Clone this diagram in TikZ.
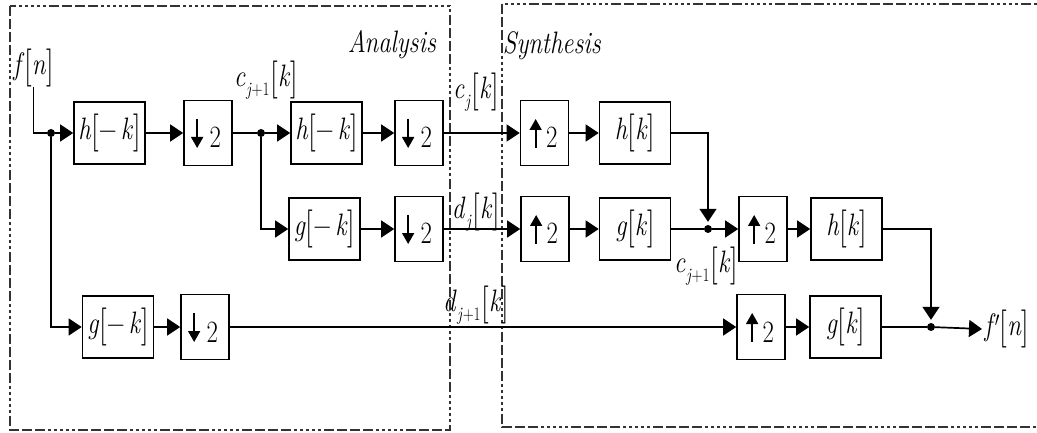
\documentclass[tikz,border=0pt]{standalone}
\usepackage{fontspec}
\usetikzlibrary{arrows.meta,calc}

% tall square brackets around an argument
\newcommand{\bk}[1]{\raisebox{-3pt}{\fontsize{38}{38}\selectfont[}#1\raisebox{-3pt}{\fontsize{38}{38}\selectfont]}}
% signal name with subscript and index: \sgl{c}{j+1}{k}
\newcommand{\sgl}[3]{\textit{#1}\kern1pt\raisebox{-9pt}{\fontsize{19}{19}\selectfont#2}\kern1pt\bk{\textit{#3}}}
% the "2" of a rate changer, lowered a little inside its box
\newcommand{\two}{\hspace*{18pt}\raisebox{-5pt}[20pt][0pt]{2}}

\tikzset{
  filt/.style={draw, line width=1.7pt, minimum width=71pt, minimum height=62pt, inner sep=0pt},
  samp/.style={draw, line width=1.7pt, minimum width=48pt, minimum height=65pt, inner sep=0pt},
  wire/.style={line width=1.7pt},
  sig/.style={wire, -{Triangle[length=13pt,width=17pt]}},
  inarrow/.style={line width=1.7pt, -{Triangle[length=11pt,width=12pt]}},
  junc/.style={circle, fill, inner sep=0pt, minimum size=8pt},
  lbl/.style={inner sep=0pt},
  sx/.style={xscale=0.8, transform shape},
  frame/.style={draw=black!80, line width=2pt,
    dash pattern=on 10pt off 3pt on 10pt off 3pt on 10pt off 3pt on 10pt off 3pt
                 on 3pt off 3pt on 3pt off 3pt on 3pt off 3pt on 3pt off 3pt on 3pt off 3pt},
}
\newcommand{\dnarrow}[1]{\draw[inarrow] ($(#1.west)+(14,-14)$) -- ($(#1.west)+(14,15)$);}
\newcommand{\uparr}[1]{\draw[inarrow] ($(#1.west)+(16,15)$) -- ($(#1.west)+(16,-14)$);}

\begin{document}
\begin{tikzpicture}[x=1pt, y=-1pt, font=\fontsize{31}{33}\selectfont]
\useasboundingbox (0,0) rectangle (1037,433);
\clip (0,0) rectangle (1037,433);

% analysis and synthesis frames
\draw[frame] (10,6) rectangle (450,430);
\draw[frame] (502,4) rectangle (1060,427);
\node[lbl, sx] (tA) at (392,45) {\textit{Analysis}};
\node[lbl, sx] (tS) at (552,46) {\textit{Synthesis}};

% analysis stage
\node[filt] (h1) at (109.5,133) {\scalebox{0.8}[1]{\textit{h}\bk{−\,\textit{k}}}};
\node[samp] (d1) at (208,133) {\scalebox{0.8}[1]{\two}};
\node[filt] (h2) at (326.5,133) {\scalebox{0.8}[1]{\textit{h}\bk{−\,\textit{k}}}};
\node[samp] (d2) at (419,133) {\scalebox{0.8}[1]{\two}};
\node[filt] (g2) at (324.5,229) {\scalebox{0.8}[1]{\textit{g}\bk{−\,\textit{k}}}};
\node[samp] (d3) at (419,229) {\scalebox{0.8}[1]{\two}};
\node[filt] (g1) at (118,327) {\scalebox{0.8}[1]{\textit{g}\bk{−\,\textit{k}}}};
\node[samp] (d4) at (205,327) {\scalebox{0.8}[1]{\two}};

% synthesis stage
\node[samp] (u1) at (544.5,133) {\scalebox{0.8}[1]{\two}};
\node[filt] (hk1) at (635,133) {\scalebox{0.8}[1]{\textit{h}\bk{\textit{k}}}};
\node[samp] (u2) at (545,229) {\scalebox{0.8}[1]{\two}};
\node[filt] (gk1) at (635,229) {\scalebox{0.8}[1]{\textit{g}\bk{\textit{k}}}};
\node[samp] (u3) at (763,229) {\scalebox{0.8}[1]{\two}};
\node[filt] (hk2) at (846.5,229) {\scalebox{0.8}[1]{\textit{h}\bk{\textit{k}}}};
\node[samp] (u4) at (761,327) {\scalebox{0.8}[1]{\two}};
\node[filt] (gk2) at (845.5,327) {\scalebox{0.8}[1]{\textit{g}\bk{\textit{k}}}};

\foreach \b in {d1,d2,d3,d4} {\dnarrow{\b}}
\foreach \b in {u1,u2,u3,u4} {\uparr{\b}}

% junctions
\node[junc] (j1) at (51,133) {};
\node[junc] (j2) at (261,133) {};
\node[junc] (j3) at (708,229) {};
\node[junc] (j4) at (931,327) {};

% signal labels
\node[lbl, sx] (fin) at (33.5,68) {\textit{f}\bk{\textit{n}}};
\node[lbl, sx] (c1a) at (266,80) {\sgl{c}{\textit{j}+1}{k}};
\node[lbl, sx] (cj) at (476,92) {\sgl{c}{\textit{j}}{k}};
\node[lbl, sx] (dj) at (476,212) {\sgl{d}{\textit{j}}{k}};
\node[lbl, sx] (dj1) at (476,305) {\sgl{d}{\textit{j}+1}{k}};
\node[lbl, sx] (c1b) at (706,266) {\sgl{c}{\textit{j}+1}{k}};
\node[lbl, sx, anchor=west, inner sep=3pt] (fout) at (982,329) {\textit{f}\kern-1pt$'$\bk{\textit{n}}};

% analysis connections
\draw[wire] (fin.south) -- (fin.south |- j1) -- (j1);
\draw[sig] (j1) -- (h1);
\draw[sig] (j1) |- (g1);
\draw[sig] (h1) -- (d1);
\draw[wire] (d1) -- (j2);
\draw[sig] (j2) -- (h2);
\draw[sig] (j2) |- (g2);
\draw[sig] (h2) -- (d2);
\draw[sig] (g2) -- (d3);
\draw[sig] (g1) -- (d4);

% analysis to synthesis
\draw[sig] (d2) -- (u1);
\draw[sig] (d3) -- (u2);
\draw[sig] (d4) -- (u4);

% synthesis connections
\draw[sig] (u1) -- (hk1);
\draw[sig] (u2) -- (gk1);
\draw[sig, shorten >=3pt] (hk1.east) -| (j3);
\draw[wire] (gk1) -- (j3);
\draw[sig] (j3) -- (u3);
\draw[sig] (u3) -- (hk2);
\draw[sig] (u4) -- (gk2);
\draw[sig, shorten >=3pt] (hk2.east) -| (j4);
\draw[wire] (gk2) -- (j4);
\draw[sig] (j4) -- (fout.west);
\end{tikzpicture}
\end{document}
